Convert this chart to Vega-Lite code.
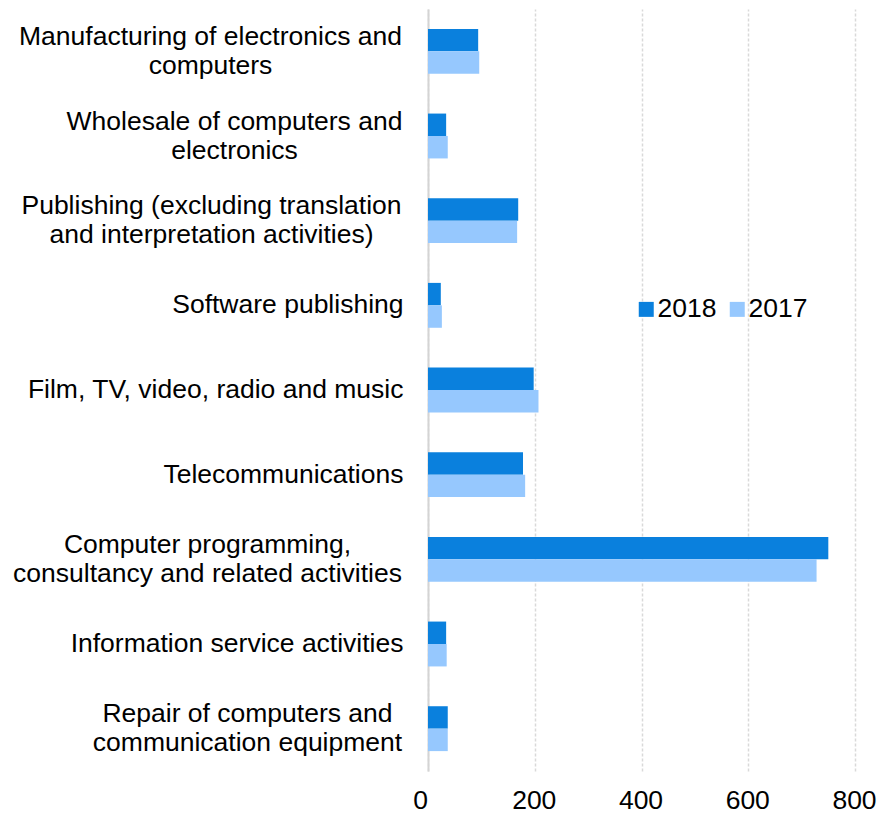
{
  "$schema": "https://vega.github.io/schema/vega-lite/v6.json",
  "autosize": {"type": "none"},
  "padding": {"left": 428, "top": 9, "right": 22, "bottom": 43},
  "width": 427,
  "height": 762,
  "background": "white",
  "config": {
    "view": {"stroke": null},
    "font": "Liberation Sans",
    "axis": {"labelFont": "Liberation Sans", "labelColor": "#000000"},
    "legend": {"labelFont": "Liberation Sans", "labelColor": "#000000"}
  },
  "data": {
    "values": [
      {"cat": "Manufacturing of electronics and|computers", "year": "2018", "value": 94},
      {"cat": "Manufacturing of electronics and|computers", "year": "2017", "value": 96},
      {"cat": "Wholesale of computers and|electronics", "year": "2018", "value": 34},
      {"cat": "Wholesale of computers and|electronics", "year": "2017", "value": 37},
      {"cat": "Publishing (excluding translation|and interpretation activities)", "year": "2018", "value": 169},
      {"cat": "Publishing (excluding translation|and interpretation activities)", "year": "2017", "value": 167},
      {"cat": "Software publishing", "year": "2018", "value": 24},
      {"cat": "Software publishing", "year": "2017", "value": 26},
      {"cat": "Film, TV, video, radio and music", "year": "2018", "value": 198},
      {"cat": "Film, TV, video, radio and music", "year": "2017", "value": 207},
      {"cat": "Telecommunications", "year": "2018", "value": 178},
      {"cat": "Telecommunications", "year": "2017", "value": 182},
      {"cat": "Computer programming,|consultancy and related activities", "year": "2018", "value": 750},
      {"cat": "Computer programming,|consultancy and related activities", "year": "2017", "value": 728},
      {"cat": "Information service activities", "year": "2018", "value": 34},
      {"cat": "Information service activities", "year": "2017", "value": 35},
      {"cat": "Repair of computers and|communication equipment", "year": "2018", "value": 37},
      {"cat": "Repair of computers and|communication equipment", "year": "2017", "value": 37}
    ]
  },
  "mark": {"type": "bar"},
  "encoding": {
    "y": {
      "field": "cat",
      "type": "nominal",
      "sort": null,
      "scale": {"paddingInner": 0.47, "paddingOuter": 0.235},
      "axis": {
        "title": null,
        "ticks": false,
        "grid": false,
        "domain": true,
        "domainColor": "#d4d4d4",
        "domainWidth": 2,
        "labelFontSize": 26.5,
        "labelLimit": 0,
        "labelLineHeight": 29,
        "labelExpr": "split(datum.label, '|')",
        "labelAlign": {"expr": "indexof(datum.value, '|') >= 0 ? 'center' : 'right'"},
        "labelOffset": {"expr": "indexof(datum.value, '|') >= 0 ? -14.5 : 0"},
        "labelPadding": {"expr": "indexof(datum.value,'Manufacturing')==0 ? 218 : indexof(datum.value,'Wholesale')==0 ? 194 : indexof(datum.value,'Publishing')==0 ? 217 : indexof(datum.value,'Computer')==0 ? 221 : indexof(datum.value,'Repair')==0 ? 181 : 25"}
      }
    },
    "yOffset": {
      "field": "year",
      "type": "nominal",
      "sort": ["2018", "2017"],
      "scale": {"paddingInner": 0, "paddingOuter": 0}
    },
    "x": {
      "field": "value",
      "type": "quantitative",
      "scale": {"domain": [0, 800], "nice": false},
      "axis": {
        "title": null,
        "values": [0, 200, 400, 600, 800],
        "domain": false,
        "ticks": false,
        "grid": true,
        "gridColor": "#d9d9d9",
        "gridDash": [3, 2],
        "gridWidth": 1.5,
        "labelFontSize": 26.5,
        "labelPadding": 16,
        "labelOffset": {"expr": "datum.value == 0 ? -8 : -1"},
        "labelFlush": false
      }
    },
    "color": {
      "field": "year",
      "type": "nominal",
      "scale": {"domain": ["2018", "2017"], "range": ["#0a80dd", "#96c8fe"]},
      "legend": {
        "title": null,
        "orient": "none",
        "legendX": 205,
        "legendY": 287,
        "direction": "horizontal",
        "symbolType": "square",
        "symbolSize": 225,
        "symbolStrokeWidth": 0,
        "labelFontSize": 26.5,
        "labelOffset": -2,
        "columnPadding": 7,
        "padding": 0
      }
    }
  }
}
